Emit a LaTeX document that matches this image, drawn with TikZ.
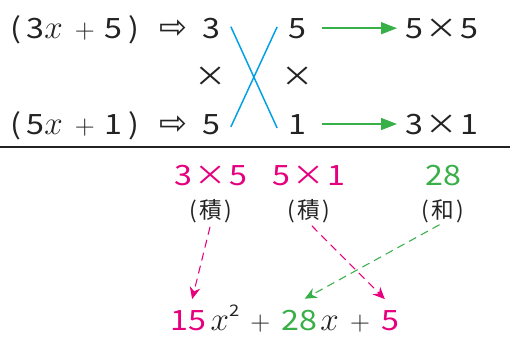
\documentclass[tikz,border=0pt]{standalone}
\usepackage{fontspec}
\newfontfamily\jpfont[FakeStretch=1.15]{Noto Sans CJK JP}
\newfontfamily\kjfont{Noto Sans CJK JP}
\newfontfamily\symfont{DejaVu Sans}
\newcommand{\numfont}{\jpfont\fontsize{21}{25}\selectfont}
\newcommand{\kanjifont}{\kjfont\fontsize{17}{20}\selectfont}
\newcommand{\varx}{{\fontsize{24}{28}\selectfont$x$}}
\definecolor{rosa}{RGB}{230,0,126}
\definecolor{verde}{RGB}{57,175,72}
\definecolor{celeste}{RGB}{0,160,230}
\definecolor{tinta}{RGB}{35,35,35}
\usepackage{tikz}
\usetikzlibrary{arrows.meta,positioning}

\tikzset{
  cruz/.style={celeste,line width=1.1pt},
  flecha/.style={verde,line width=1.1pt,-{Triangle[length=12pt,width=9pt]},
    shorten <=12pt,shorten >=6pt},
  guia/.style={dash pattern=on 6pt off 4pt,line width=0.8pt,
    -{Stealth[length=9pt,width=8pt]},shorten <=3pt}
}

\begin{document}
\begin{tikzpicture}[x=0.75pt,y=-0.75pt,
    every node/.style={inner sep=0pt,text=tinta,font=\numfont}]
    \useasboundingbox (0,0) rectangle (510,336);
      % factores
      \node[anchor=base west] (f1) at (10,38) {(\hspace{4pt}3\varx\hspace{9pt}$+$\hspace{7pt}5\hspace{5pt})};
      \node[anchor=base west] (f2) at (10,134) {(\hspace{4pt}5\varx\hspace{9pt}$+$\hspace{7pt}1\hspace{5pt})};
      \node[anchor=base west,font=\symfont\fontsize{25}{28}\selectfont] (g1) at (159,38) {⇨};
      \node[anchor=base west,font=\symfont\fontsize{25}{28}\selectfont] (g2) at (159,134) {⇨};
      \node[anchor=base] (a1) at (211,38) {3};
      \node[anchor=base] (m1) at (211,86) {×};
      \node[anchor=base] (a2) at (211,134) {5};
      \node[anchor=base] (b1) at (297,38) {5};
      \node[anchor=base] (m2) at (298,86) {×};
      \node[anchor=base] (b2) at (297,134) {1};
      \node[anchor=base west] (p1) at (405,38) {5\hspace{2pt}×\hspace{2pt}5};
      \node[anchor=base west] (p2) at (405,134) {3\hspace{2pt}×\hspace{2pt}1};
      \draw[cruz] ([xshift=8pt,yshift=1pt]a1.east) -- ([xshift=-8pt,yshift=-3pt]b2.west);
      \draw[cruz] ([xshift=8pt,yshift=-2pt]a2.east) -- ([xshift=-8pt,yshift=1pt]b1.west);
      \draw[flecha] (b1.east) -- (b1.east -| p1.west);
      \draw[flecha] (b2.east) -- (b2.east -| p2.west);
      \draw[tinta,line width=1.2pt] (0,147) -- (510,147);
      % productos y suma
      \node[anchor=base,text=rosa] (r1) at (211,185) {3\hspace{2pt}×\hspace{2pt}5};
      \node[anchor=base,text=rosa] (r2) at (309,185) {5\hspace{2pt}×\hspace{2pt}1};
      \node[anchor=base,text=verde] (s1) at (443,185) {28};
      \node[font=\kanjifont,below=10pt of r1] (k1) {(\hspace{2pt}積\hspace{2pt})};
      \node[font=\kanjifont,below=10pt of r2] (k2) {(\hspace{2pt}積\hspace{2pt})};
      \node[font=\kanjifont,below=10pt of s1] (k3) {(\hspace{2pt}和\hspace{2pt})};
      % resultado
      \node[anchor=base west,text=rosa] (t15) at (170,330) {15};
      \node[base right=3pt of t15] (tx2) {\varx\raisebox{10pt}{\fontsize{12}{14}\selectfont 2}};
      \node[base right=8pt of tx2] (tp1) {$+$};
      \node[base right=8pt of tp1,text=verde] (t28) {28};
      \node[base right=2pt of t28] (tx) {\varx};
      \node[base right=8pt of tx] (tp2) {$+$};
      \node[base right=8pt of tp2,text=rosa] (t5) {5};
      \draw[guia,rosa] (k1.south) -- ([xshift=3pt,yshift=8pt]t15.north);
      \draw[guia,rosa] (k2.south) -- ([xshift=-4pt,yshift=8pt]t5.north);
      \draw[guia,verde] (k3.south) -- ([xshift=4pt,yshift=8pt]t28.north);
    \end{tikzpicture}
\end{document}
